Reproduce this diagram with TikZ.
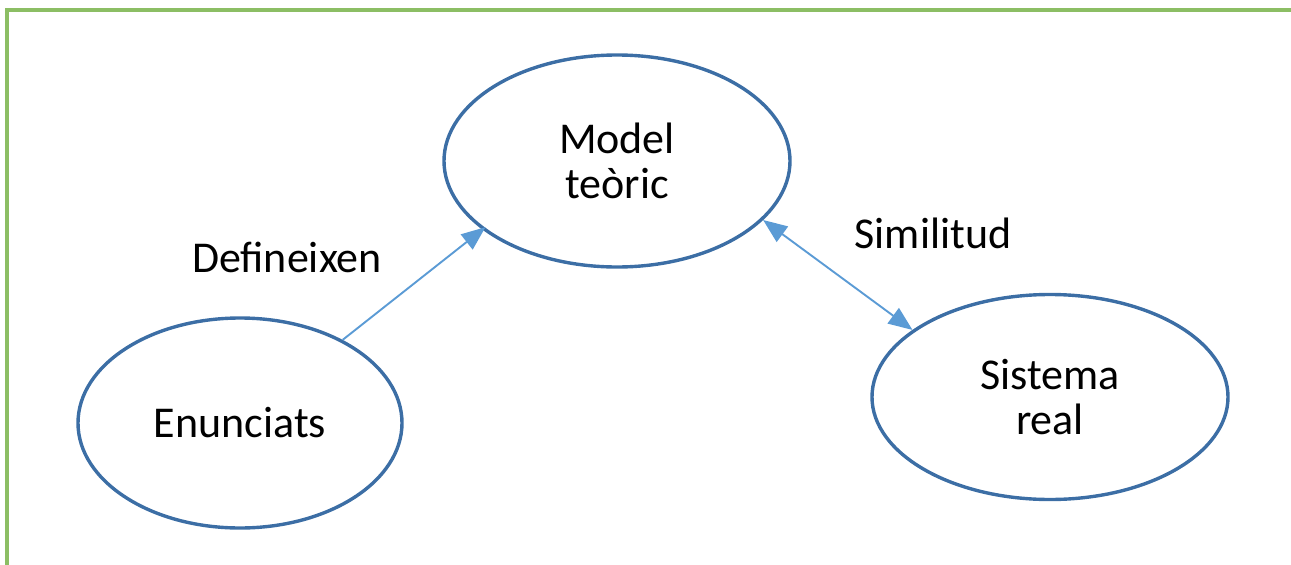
\documentclass[tikz,border=0pt]{standalone}
\usepackage{fontspec}
\setmainfont{Carlito}
\usetikzlibrary{arrows.meta,shapes.geometric}
\definecolor{ellblue}{RGB}{60,110,165}
\definecolor{arrblue}{RGB}{91,155,213}
\definecolor{framegreen}{RGB}{140,190,100}
\begin{document}
\begin{tikzpicture}[x=1pt,y=-1pt,
  oval/.style={ellipse,draw=ellblue,line width=3.4pt,inner sep=0pt,align=center,
    font=\fontsize{44}{45}\selectfont},
  lbl/.style={font=\fontsize{44}{45}\selectfont,anchor=base,inner sep=0pt},
  conn/.style={draw=arrblue,line width=1.9pt,-{Triangle[length=24pt,width=19pt]}},
  dconn/.style={draw=arrblue,line width=1.9pt,{Triangle[length=24pt,width=19pt]}-{Triangle[length=24pt,width=19pt]}}]
\useasboundingbox (0,0) rectangle (1291,565);
\draw[framegreen,line width=3.5pt] (7,565) -- (7,10) -- (1291,10);
\node[oval,minimum width=346pt,minimum height=212pt] (model) at (617,161) {Model\\teòric};
\node[oval,minimum width=324pt,minimum height=210pt] (enun) at (240,423) {Enunciats};
\node[oval,minimum width=356pt,minimum height=205pt] (sist) at (1050,397) {Sistema\\real};
\node[lbl] (def) at (287,272) {Defineixen};
\node[lbl] (sim) at (933,248) {Similitud};
\draw[conn,shorten >=-4pt] (enun.39) -- (model.207);
\draw[dconn] (model.338) -- (sist.154);
\end{tikzpicture}
\end{document}
